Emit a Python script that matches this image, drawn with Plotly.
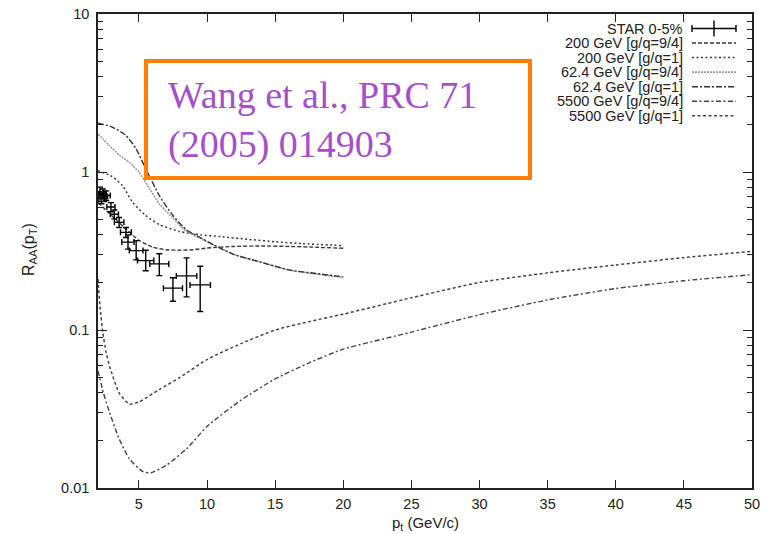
import plotly.graph_objects as go

# ---------------- data ----------------
star_x = [2.05, 2.15, 2.25, 2.35, 2.45, 2.6, 2.95, 3.2, 3.55, 4.05, 4.2, 4.8, 5.5, 6.5, 7.5, 8.5, 9.5]
star_y = [0.70, 0.75, 0.68, 0.73, 0.70, 0.71, 0.60, 0.54, 0.48, 0.415, 0.36, 0.318, 0.275, 0.262, 0.184, 0.22, 0.193]
star_xerr = [0.25, 0.25, 0.25, 0.25, 0.25, 0.3, 0.3, 0.3, 0.35, 0.4, 0.45, 0.5, 0.6, 0.7, 0.7, 0.75, 0.75]
star_yerr_plus = [0.05, 0.05, 0.05, 0.05, 0.05, 0.05, 0.04, 0.035, 0.035, 0.03, 0.04, 0.05, 0.045, 0.042, 0.03, 0.066, 0.06]
star_yerr_minus = [0.05, 0.05, 0.05, 0.05, 0.05, 0.05, 0.04, 0.035, 0.035, 0.03, 0.035, 0.04, 0.038, 0.041, 0.032, 0.058, 0.062]

x_200_94 = [2, 3, 4, 5, 6, 7, 8, 9, 10, 12, 14, 16, 18, 20]
y_200_94 = [0.64, 0.53, 0.44, 0.37, 0.335, 0.322, 0.32, 0.322, 0.33, 0.338, 0.34, 0.338, 0.334, 0.329]

x_200_1 = [2, 3, 3.8, 4.5, 5.5, 6.5, 8, 9.5, 11, 13, 15, 17, 20]
y_200_1 = [1.02, 0.94, 0.82, 0.65, 0.53, 0.465, 0.42, 0.40, 0.39, 0.375, 0.362, 0.352, 0.342]

x_62_94 = [2, 2.8, 3.6, 4.3, 5.0, 5.8, 6.5, 7.5, 8.5, 9.5, 10.5, 12, 14, 16, 18, 20]
y_62_94 = [1.74, 1.48, 1.27, 1.15, 1.0, 0.78, 0.63, 0.51, 0.42, 0.38, 0.345, 0.30, 0.268, 0.24, 0.226, 0.215]

x_62_1 = [2, 3, 4, 4.8, 5.5, 6.5, 7.5, 8.5, 9.5, 10.5, 12, 14, 16, 18, 20]
y_62_1 = [2.04, 1.93, 1.72, 1.40, 1.05, 0.71, 0.53, 0.43, 0.385, 0.345, 0.30, 0.268, 0.24, 0.228, 0.217]

x_5500_94 = [2, 2.4, 2.85, 3.55, 4.3, 5.3, 5.9, 7, 8.5, 10, 12.5, 15, 17.5, 20, 25, 30, 35, 40, 45, 50]
y_5500_94 = [0.055, 0.040, 0.030, 0.0205, 0.0153, 0.0127, 0.0125, 0.0139, 0.0177, 0.0245, 0.036, 0.049, 0.062, 0.0756, 0.097, 0.125, 0.155, 0.183, 0.205, 0.224]

x_5500_1 = [2, 2.15, 2.35, 2.6, 2.85, 3.55, 4.3, 5.0, 6.5, 8, 10, 12.5, 15, 17.5, 20, 25, 30, 35, 40, 45, 50]
y_5500_1 = [0.21, 0.14, 0.097, 0.072, 0.059, 0.040, 0.034, 0.035, 0.042, 0.050, 0.065, 0.082, 0.100, 0.113, 0.126, 0.16, 0.20, 0.23, 0.258, 0.287, 0.315]

legend_labels = ["STAR 0-5%", "200 GeV [g/q=9/4]", "200 GeV [g/q=1]", "62.4 GeV [g/q=9/4]",
                 "62.4 GeV [g/q=1]", "5500 GeV [g/q=9/4]", "5500 GeV [g/q=1]"]

x_ticks = [5, 10, 15, 20, 25, 30, 35, 40, 45, 50]
y_ticks = [0.01, 0.1, 1, 10]
y_ticktext = ["0.01", "0.1", "1", "10"]

# ---------------- styles ----------------
styles = [
    (x_200_94, y_200_94, "#3a3a3a", "4px,2px", 1.4),
    (x_200_1, y_200_1, "#3a3a3a", "2px,2.5px", 1.5),
    (x_62_94, y_62_94, "#9a9a9a", "2px,1px", 1.6),
    (x_62_1, y_62_1, "#333333", "6px,2px,2px,2px", 1.4),
    (x_5500_94, y_5500_94, "#444444", "5px,2.5px,2px,2.5px", 1.4),
    (x_5500_1, y_5500_1, "#444444", "3px,2.5px", 1.5),
]

fig = go.Figure()

for xs, ys, col, dash, w in styles:
    fig.add_trace(go.Scatter(x=xs, y=ys, mode="lines",
                             line=dict(color=col, dash=dash, width=w, shape="spline", smoothing=0.6),
                             showlegend=False, hoverinfo="skip"))

fig.add_trace(go.Scatter(
    x=star_x, y=star_y, mode="markers",
    marker=dict(size=1, color="black"),
    error_x=dict(type="data", array=star_xerr, color="black", thickness=1.4, width=3),
    error_y=dict(type="data", array=star_yerr_plus, arrayminus=star_yerr_minus, symmetric=False,
                 color="black", thickness=1.4, width=3),
    showlegend=False))

# geometry (pixels)
L, R, T, B = 98, 752, 14, 488
W, H = 773, 534


def px(xp):
    return (xp - L) / (R - L)


def py(yp):
    return (B - yp) / (B - T)


minor_vals = []
for d in [0.01, 0.1, 1]:
    for k in range(2, 10):
        minor_vals.append(k * d)

font_main = "Liberation Sans, Arial, sans-serif"

fig.update_layout(
    width=W, height=H,
    margin=dict(l=L, r=W - R, t=T, b=H - B, autoexpand=False),
    plot_bgcolor="white", paper_bgcolor="white",
    font=dict(family=font_main, size=14.5, color="#222"),
    xaxis=dict(range=[2, 50], tickvals=x_ticks, ticks="inside", ticklen=8, tickwidth=1.2,
               tickcolor="#222", showline=True, linecolor="#222", linewidth=1.5, mirror="ticks",
               showgrid=False, zeroline=False, ticklabelstandoff=2, tickfont=dict(size=14.5),
               automargin=False),
    yaxis=dict(type="log", range=[-2, 1], tickvals=y_ticks, ticktext=y_ticktext, ticks="inside",
               ticklen=9, tickwidth=1.2, tickcolor="#222", showline=True, linecolor="#222", linewidth=1.5,
               mirror="ticks", showgrid=False, zeroline=False, ticklabelstandoff=4, tickfont=dict(size=14.5),
               automargin=False,
               minor=dict(tickvals=minor_vals, ticks="inside", ticklen=5, tickcolor="#222", tickwidth=1.2,
                          showgrid=False)),
)

ann = []
shapes = []

# axis titles
ann.append(dict(x=0.5, y=py(523), xref="paper", yref="paper", text="p<sub>t</sub> (GeV/c)",
                showarrow=False, font=dict(size=15, color="#222"), xanchor="center", yanchor="middle",
                borderpad=0))
ann.append(dict(x=px(29), y=py(250), xref="paper", yref="paper", text="R<sub>AA</sub>(p<sub>T</sub>)",
                showarrow=False, font=dict(size=16, color="#222"), textangle=-90, xanchor="center",
                yanchor="middle"))

# legend (text right-aligned, sample on right)
row0, drow = 28.5, 14.55
tx = px(684)
sx0, sx1 = px(692), px(736)
for i, lab in enumerate(legend_labels):
    yr = row0 + drow * i
    ann.append(dict(x=tx, y=py(yr), xref="paper", yref="paper", text=lab, showarrow=False,
                    font=dict(size=14.5, color="#222"), xanchor="right", yanchor="middle", borderpad=0))
    if i == 0:
        shapes.append(dict(type="line", xref="paper", yref="paper", x0=sx0, x1=sx1, y0=py(yr), y1=py(yr),
                           line=dict(color="black", width=1.4)))
        for xe in (692, 736):
            shapes.append(dict(type="line", xref="paper", yref="paper", x0=px(xe), x1=px(xe),
                               y0=py(yr - 3.5), y1=py(yr + 3.5), line=dict(color="black", width=1.4)))
        shapes.append(dict(type="line", xref="paper", yref="paper", x0=px(714), x1=px(714),
                           y0=py(yr - 8), y1=py(yr + 8), line=dict(color="black", width=1.4)))
    else:
        _, _, col, dash, w = styles[i - 1]
        shapes.append(dict(type="line", xref="paper", yref="paper", x0=sx0, x1=sx1, y0=py(yr), y1=py(yr),
                           line=dict(color=col, width=w, dash=dash)))

# citation box
shapes.append(dict(type="rect", xref="paper", yref="paper", x0=px(146), x1=px(530), y0=py(178), y1=py(61),
                   line=dict(color="#FF8000", width=4), fillcolor="rgba(255,255,255,0)"))
ann.append(dict(x=px(166), y=py(120), xref="paper", yref="paper",
                text="Wang et al., PRC 71<br>(2005) 014903", showarrow=False, align="left",
                font=dict(family="Liberation Serif, Times New Roman, serif", size=38, color="#A64FC9"),
                xanchor="left", yanchor="middle"))

fig.update_layout(annotations=ann, shapes=shapes)
fig.write_html("out.html")
